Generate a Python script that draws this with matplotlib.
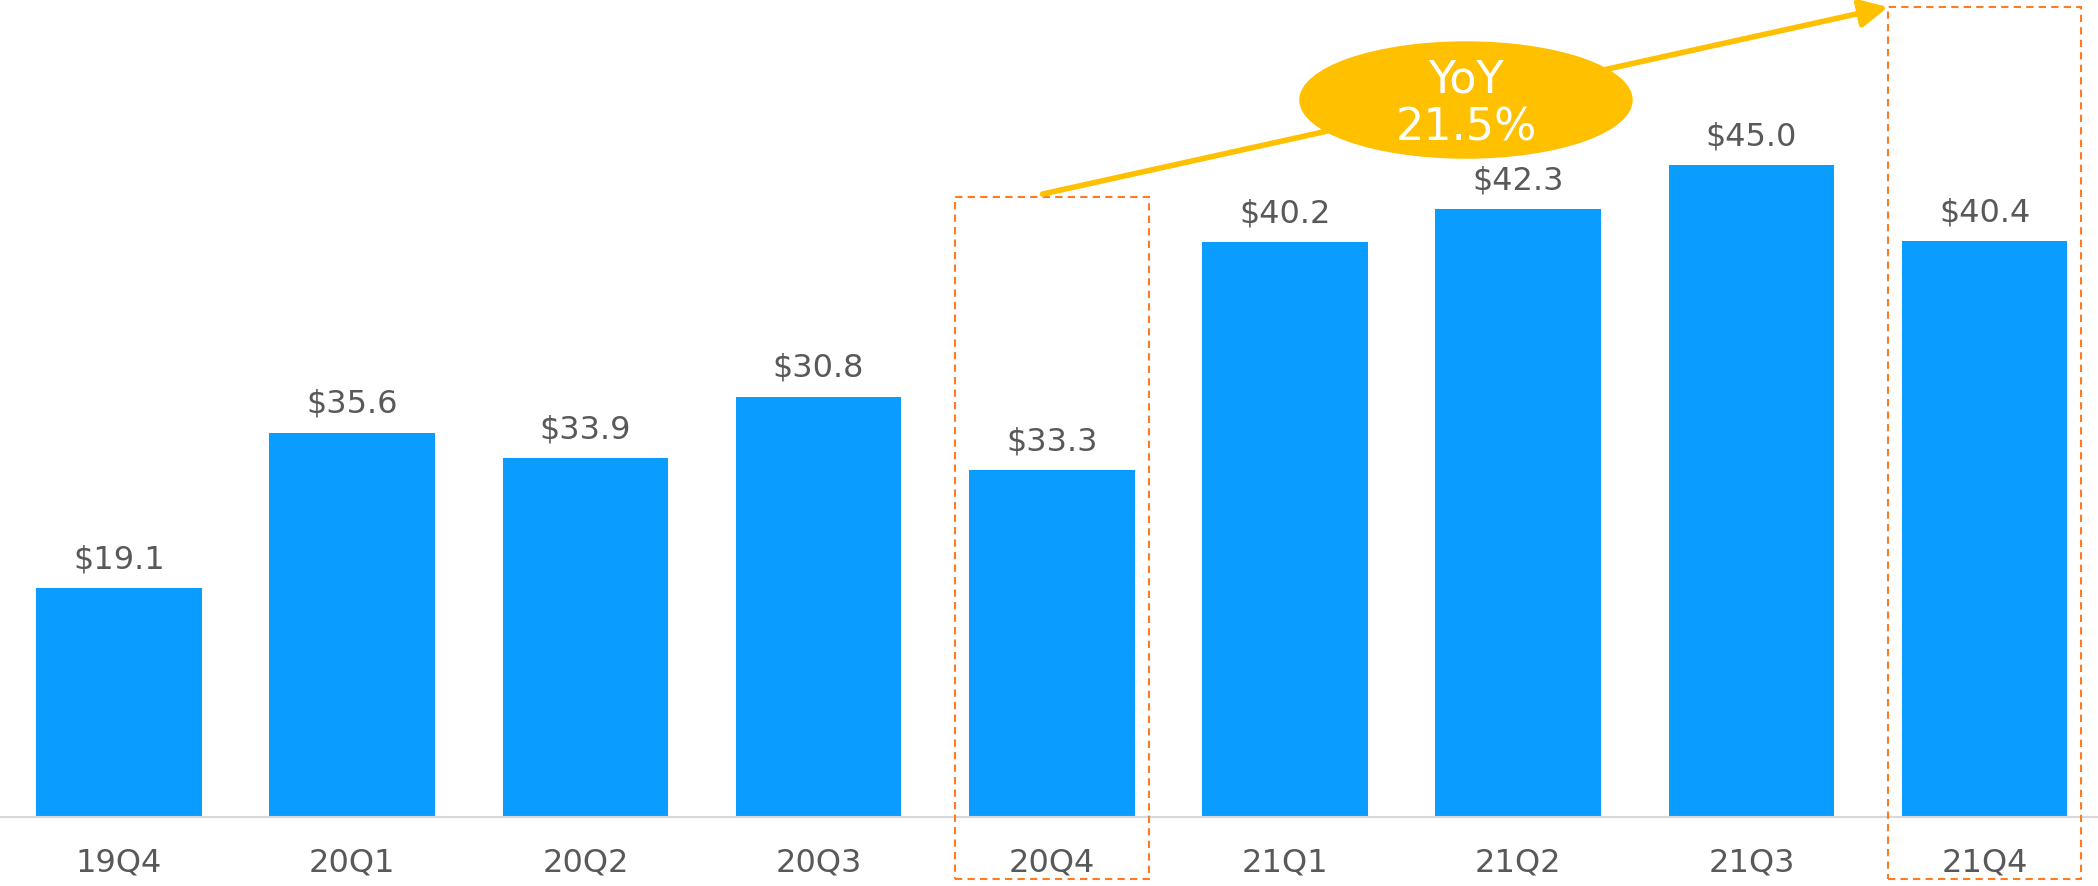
import matplotlib
matplotlib.use("Agg")
import matplotlib.pyplot as plt
from matplotlib.patches import Ellipse, Rectangle

quarters = ["19Q4", "20Q1", "20Q2", "20Q3", "20Q4", "21Q1", "21Q2", "21Q3", "21Q4"]
# bar heights as drawn in the picture (not proportional to the printed labels)
bar_heights = [15.9, 26.7, 24.9, 29.2, 24.1, 39.9, 42.2, 45.3, 40.0]
value_labels = ["$19.1", "$35.6", "$33.9", "$30.8", "$33.3", "$40.2", "$42.3", "$45.0", "$40.4"]
yoy_text = "YoY\n21.5%"
highlight = [4, 8]

BLUE = "#0A9DFF"
GREY = "#595959"
ORANGE = "#FF7B22"
GOLD = "#FFC000"

plt.rcParams["font.family"] = ["DejaVu Sans"]

fig = plt.figure(figsize=(20.98, 8.86), dpi=100)
ax = fig.add_axes([0, 69 / 886, 1, 817 / 886])

x = list(range(len(quarters)))
ax.bar(x, bar_heights, width=0.71, color=BLUE, zorder=2)

for i, (h, lab) in enumerate(zip(bar_heights, value_labels)):
    ax.text(i, h + 1.95, lab, ha="center", va="center", fontsize=23, color=GREY)

ax.set_xlim(-119 / 233.2, (2098 - 119) / 233.2)
ax.set_ylim(0, 817 / 14.4)
ax.set_xticks(x)
ax.set_xticklabels(quarters, fontsize=23, color=GREY)
ax.tick_params(axis="x", length=0, pad=22)
ax.set_yticks([])
for side in ["top", "right", "left"]:
    ax.spines[side].set_visible(False)
ax.spines["bottom"].set_color("#D9D9D9")
ax.spines["bottom"].set_linewidth(1.5)

# dashed highlight boxes around 20Q4 and 21Q4
box_tops = {4: 43.06, 8: 56.25}
for i in highlight:
    rect = Rectangle((i - 0.415, -4.3), 0.83, box_tops[i] + 4.3, fill=False,
                     edgecolor=ORANGE, lw=1.5, linestyle=(0, (3.5, 2.5)),
                     clip_on=False, zorder=3)
    ax.add_patch(rect)

# arrow from the 20Q4 box to the 21Q4 box
ax.annotate("", xy=(7.586, 56.25), xytext=(3.96, 43.26),
            arrowprops=dict(arrowstyle="-|>", color=GOLD, lw=4,
                            mutation_scale=42, shrinkA=0, shrinkB=0),
            annotation_clip=False, zorder=4)

ell = Ellipse((5.776, 49.79), 1.424, 8.06, color=GOLD, clip_on=False, zorder=5)
ax.add_patch(ell)
ax.text(5.776, 49.5, yoy_text, ha="center", va="center", fontsize=32,
        color="white", linespacing=1.15, zorder=6)

fig.savefig("out.png", dpi=100)
